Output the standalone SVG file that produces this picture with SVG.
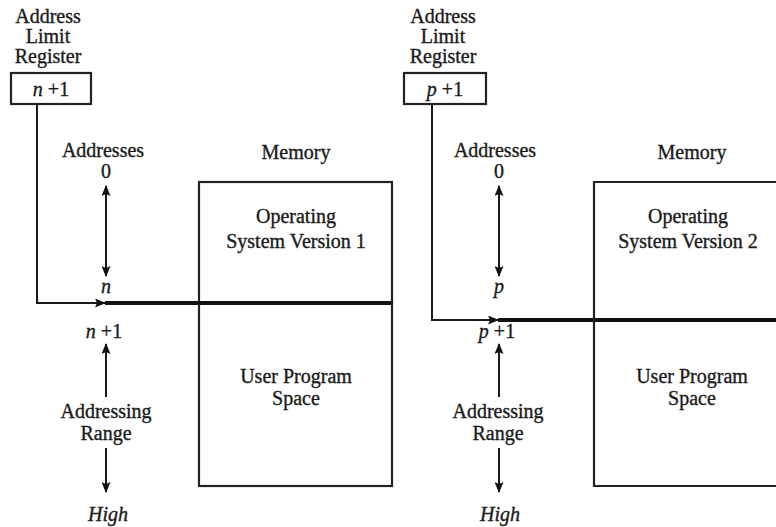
<svg xmlns="http://www.w3.org/2000/svg" width="776" height="527" viewBox="0 0 776 527">
<defs>
<marker id="ah" viewBox="0 0 11 9" refX="10" refY="4.5" markerWidth="11" markerHeight="9" markerUnits="userSpaceOnUse" orient="auto-start-reverse">
<path d="M0,0 L11,4.5 L0,9 L2,4.5 z" fill="#111"/>
</marker>
</defs>
<style>
text{font-family:"Liberation Serif","Times New Roman",serif;font-size:20px;fill:#1a1a1a;stroke:#1a1a1a;stroke-width:0.35;text-anchor:middle}
.i{font-style:italic}
.u{font-style:normal}
.box{fill:none;stroke:#222;stroke-width:2.2}
.ln{fill:none;stroke:#1a1a1a;stroke-width:2}
.thick{fill:none;stroke:#111;stroke-width:4}
</style>
<rect width="776" height="527" fill="#fff"/>

<g id="panel1">
<g id="reg1">
<text x="48" y="23">Address</text>
<text x="48" y="43">Limit</text>
<text x="48" y="63">Register</text>
<rect class="box" x="11" y="73" width="80" height="31"/>
<text class="i" x="51" y="96">n <tspan class="u">+1</tspan></text>
</g>
<g id="addr1">
<text x="103" y="157">Addresses</text>
<text x="106" y="178">0</text>
<text class="i" x="106" y="293">n</text>
<text class="i" x="104" y="338">n <tspan class="u">+1</tspan></text>
<text x="106" y="418">Addressing</text>
<text x="106" y="440">Range</text>
<text class="i" x="108" y="521">High</text>
</g>
<g id="mem1">
<text x="296" y="159">Memory</text>
<rect class="box" x="199" y="182" width="193" height="304"/>
<text x="296" y="223">Operating</text>
<text x="296" y="248">System Version 1</text>
<text x="296" y="383">User Program</text>
<text x="296" y="405">Space</text>
</g>
</g>

<g id="panel2">
<g id="reg2">
<text x="443" y="23">Address</text>
<text x="443" y="43">Limit</text>
<text x="443" y="63">Register</text>
<rect class="box" x="404" y="73" width="82" height="31"/>
<text class="i" x="445" y="96">p <tspan class="u">+1</tspan></text>
</g>
<g id="addr2">
<text x="495" y="157">Addresses</text>
<text x="499" y="178">0</text>
<text class="i" x="499" y="293">p</text>
<text class="i" x="497" y="338">p <tspan class="u">+1</tspan></text>
<text x="498" y="418">Addressing</text>
<text x="498" y="440">Range</text>
<text class="i" x="500" y="521">High</text>
</g>
<g id="mem2">
<text x="692" y="159">Memory</text>
<path class="box" d="M780,182 H594 V486 H780"/>
<text x="688" y="223">Operating</text>
<text x="688" y="248">System Version 2</text>
<text x="692" y="383">User Program</text>
<text x="692" y="405">Space</text>
</g>
</g>

<g id="connectors">
<path class="ln" d="M37,104 V303 H105" marker-end="url(#ah)"/>
<path class="thick" d="M105,303 H393"/>
<path class="ln" d="M106,186 V276" marker-start="url(#ah)" marker-end="url(#ah)"/>
<path class="ln" d="M106,397 V344" marker-end="url(#ah)"/>
<path class="ln" d="M106,448 V492" marker-end="url(#ah)"/>

<path class="ln" d="M432,104 V320 H498" marker-end="url(#ah)"/>
<path class="thick" d="M498,320 H776"/>
<path class="ln" d="M499,186 V276" marker-start="url(#ah)" marker-end="url(#ah)"/>
<path class="ln" d="M499,397 V344" marker-end="url(#ah)"/>
<path class="ln" d="M499,448 V492" marker-end="url(#ah)"/>
</g>
</svg>
